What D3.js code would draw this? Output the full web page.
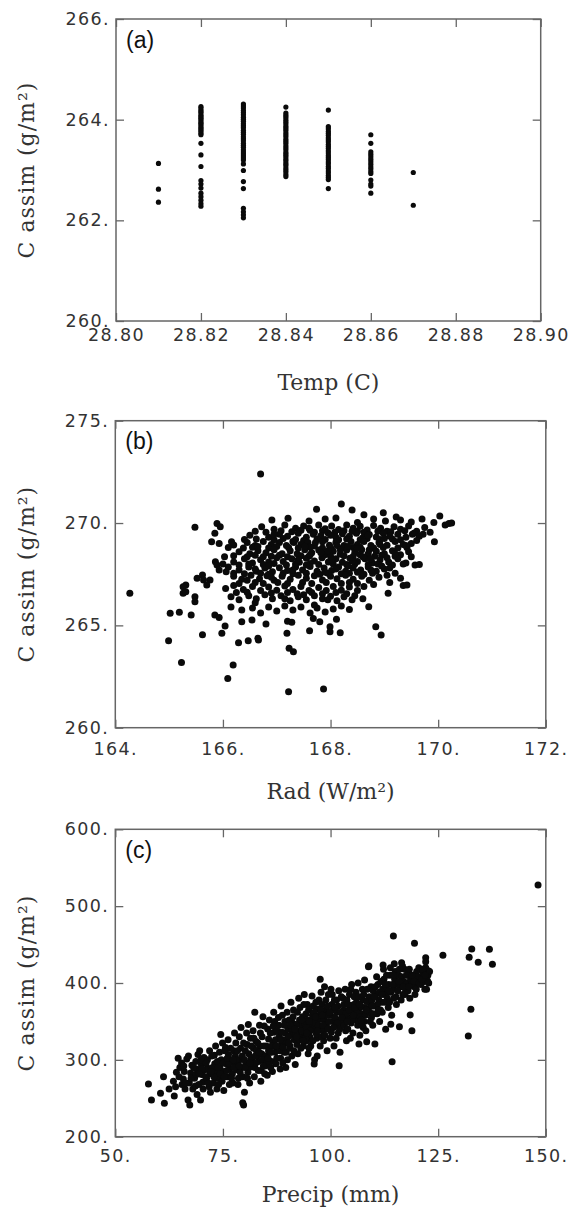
<!DOCTYPE html>
<html>
<head>
<meta charset="utf-8">
<script src="https://cdn.jsdelivr.net/npm/d3@7"></script>
<style>
  body { margin: 0; background: #fff; }
  .tick text { font-family: "DejaVu Sans", sans-serif; font-size: 17.5px; letter-spacing: 1.4px; fill: #333; }
  .tick line { stroke: #666; stroke-width: 1.3; }
  .title { font-family: "DejaVu Serif", serif; font-size: 22px; fill: #333; }
  .plab { font-family: "Liberation Sans", Arial, sans-serif; font-size: 23px; fill: #111; }
</style>
</head>
<body>
<svg id="fig" width="572" height="1209"></svg>
<script>
// ---- data: (a) C assim vs Temp ----
var tempTicks = [28.80, 28.82, 28.84, 28.86, 28.88, 28.90];
var tempTickLabels = ["28.80", "28.82", "28.84", "28.86", "28.88", "28.90"];
var assimTicksA = [260, 262, 264, 266];
var assimTickLabelsA = ["260.", "262.", "264.", "266."];
var tempLevels = [28.81, 28.82, 28.83, 28.84, 28.85, 28.86, 28.87];
var assimAtTemp = [
  [263.13, 262.62, 262.36],
  [264.26, 264.23, 264.19, 264.16, 264.13, 264.09, 264.06, 264.03, 264.00, 263.96, 263.93, 263.90, 263.86, 263.83, 263.80, 263.77, 263.73, 263.70,
   263.53, 263.30, 263.07, 262.79, 262.72, 262.64, 262.54, 262.47, 262.40, 262.33, 262.28],
  [264.31, 264.27, 264.23, 264.18, 264.14, 264.10, 264.05, 264.01, 263.97, 263.92, 263.88, 263.84, 263.79, 263.75, 263.71, 263.66, 263.62, 263.58,
   263.53, 263.49, 263.45, 263.40, 263.36, 263.32, 263.28, 263.24, 263.20, 263.12, 262.99, 262.77, 262.63, 262.24, 262.17, 262.11, 262.05],
  [264.25, 264.13, 264.09, 264.05, 264.00, 263.96, 263.92, 263.87, 263.83, 263.79, 263.74, 263.70, 263.66, 263.61, 263.57, 263.53, 263.48,
   263.44, 263.40, 263.35, 263.31, 263.27, 263.22, 263.18, 263.13, 263.09, 263.04, 263.00, 262.96, 262.91, 262.87],
  [264.19, 263.86, 263.82, 263.77, 263.73, 263.69, 263.64, 263.60, 263.56, 263.51, 263.47, 263.43, 263.38, 263.34, 263.29, 263.25, 263.21,
   263.16, 263.12, 263.07, 263.03, 262.98, 262.94, 262.89, 262.85, 262.81, 262.63],
  [263.70, 263.53, 263.36, 263.31, 263.26, 263.21, 263.16, 263.11, 263.06, 263.02, 262.97, 262.93, 262.80, 262.72, 262.68, 262.54],
  [262.95, 262.30]
];

// ---- data: (b) C assim vs Rad ----
var radTicks = [164, 166, 168, 170, 172];
var radTickLabels = ["164.", "166.", "168.", "170.", "172."];
var assimTicksB = [260, 265, 270, 275];
var assimTickLabelsB = ["260.", "265.", "270.", "275."];
var radPoints = [
  [166.70,272.39],[165.48,269.79],[164.27,266.57],
  [167.74,270.67],[168.20,270.93],[168.40,270.64],[168.98,270.50],[168.62,270.40],[170.03,270.34],[169.22,270.30],
  [165.89,269.98],[165.95,269.82],[166.91,270.15],[167.21,270.23],[167.60,270.10],[167.90,270.20],[168.10,270.25],
  [168.50,270.02],[168.80,270.20],[169.02,270.10],[169.30,270.15],[169.50,270.05],[169.70,270.20],[170.13,269.90],
  [170.20,269.98],[169.92,270.02],[165.85,269.50],
  [166.72,269.82],[166.95,269.70],[167.15,269.90],[167.35,269.75],[167.50,269.85],[167.62,269.65],[167.78,269.90],
  [167.90,269.72],[168.02,269.86],[168.15,269.68],[168.30,269.90],[168.42,269.74],[168.55,269.84],[168.68,269.66],
  [168.80,269.88],[168.93,269.74],[169.05,269.60],[169.18,269.82],[169.30,269.70],[169.45,269.86],[169.60,269.60],
  [169.75,269.78],[169.85,269.55],[170.25,270.00],
  [166.60,269.60],[166.80,269.55],[167.08,269.62],[167.28,269.58],[167.45,269.65],[167.70,269.55],[167.85,269.62],
  [168.08,269.55],[168.25,269.62],[168.50,269.60],[168.62,269.55],[168.88,269.60],[169.12,269.58],[169.38,269.62],
  [169.55,269.50],[169.72,269.45],
  [166.50,269.40],[166.85,269.30],[167.05,269.45],[167.20,269.35],[167.40,269.50],[167.55,269.30],[167.68,269.45],
  [167.82,269.38],[167.95,269.52],[168.10,269.30],[168.22,269.48],[168.35,269.35],[168.48,269.50],[168.60,269.28],
  [168.72,269.44],[168.85,269.32],[168.98,269.50],[169.10,269.36],[169.25,269.45],[169.40,269.30],[169.52,269.45],
  [169.65,269.35],[169.93,269.09],
  [166.40,269.20],[166.62,269.22],[166.95,269.18],[167.12,269.25],[167.35,269.20],[167.50,269.15],[167.75,269.22],
  [167.90,269.20],[168.15,269.18],[168.30,269.22],[168.55,269.18],[168.68,269.25],[168.92,269.20],[169.15,269.22],
  [169.30,269.18],[169.60,269.15],
  [165.79,269.09],[165.93,269.00],[166.16,269.09],[166.20,268.93],[166.45,269.05],[166.60,268.90],[166.75,269.10],
  [166.90,268.95],[167.05,269.05],[167.18,268.90],[167.30,269.10],[167.45,268.95],[167.58,269.05],[167.70,268.88],
  [167.85,269.08],[167.98,268.92],[168.10,269.06],[168.25,268.90],[168.38,269.10],[168.50,268.95],[168.62,269.10],
  [168.75,268.90],[168.90,269.05],[169.05,268.92],[169.20,269.10],[169.35,268.95],[169.50,269.00],
  [166.10,268.80],[166.38,268.78],[166.55,268.82],[166.85,268.78],[167.00,268.85],[167.22,268.80],[167.40,268.78],
  [167.62,268.82],[167.85,268.78],[168.00,268.80],[168.20,268.75],[168.42,268.80],[168.55,268.82],[168.80,268.78],
  [168.98,268.80],[169.25,268.78],[169.42,268.80],
  [166.30,268.60],[166.50,268.50],[166.65,268.65],[166.80,268.55],[166.95,268.70],[167.10,268.50],[167.25,268.65],
  [167.38,268.50],[167.52,268.70],[167.65,268.55],[167.78,268.68],[167.92,268.50],[168.05,268.62],[168.18,268.48],
  [168.30,268.68],[168.45,268.55],[168.58,268.70],[168.70,268.50],[168.85,268.62],[169.00,268.50],[169.15,268.65],
  [169.30,268.45],[169.45,268.60],
  [166.20,268.40],[166.45,268.35],[166.60,268.42],[166.90,268.38],[167.05,268.42],[167.20,268.35],[167.45,268.40],
  [167.60,268.38],[167.88,268.42],[168.00,268.38],[168.25,268.40],[168.42,268.36],[168.55,268.45],[168.82,268.38],
  [168.95,268.42],[169.20,268.38],[169.50,268.35],
  [165.86,268.11],[166.03,268.35],[166.20,268.10],[166.40,268.25],[166.55,268.05],[166.70,268.20],[166.85,268.10],
  [167.00,268.30],[167.12,268.12],[167.28,268.25],[167.42,268.08],[167.55,268.28],[167.70,268.15],[167.84,268.30],
  [167.96,268.10],[168.10,268.25],[168.22,268.08],[168.36,268.28],[168.50,268.12],[168.64,268.25],[168.78,268.05],
  [168.92,268.20],[169.08,268.10],[169.25,268.25],[169.40,268.05],[169.57,267.95],[169.65,267.98],
  [166.00,268.00],[166.30,267.95],[166.48,268.00],[166.75,267.98],[166.95,268.02],[167.18,267.95],[167.35,268.00],
  [167.62,268.02],[167.78,267.98],[168.05,268.00],[168.30,267.98],[168.45,268.00],[168.70,267.98],[168.88,268.00],
  [169.15,267.95],[169.35,268.00],
  [165.89,267.95],[165.93,267.70],[166.10,267.85],[166.30,267.70],[166.48,267.85],[166.62,267.65],[166.78,267.80],
  [166.92,267.62],[167.05,267.82],[167.20,267.68],[167.35,267.85],[167.48,267.70],[167.62,267.88],[167.75,267.65],
  [167.88,267.80],[168.02,267.68],[168.15,267.85],[168.28,267.65],[168.42,267.80],[168.56,267.70],[168.70,267.85],
  [168.85,267.65],[169.00,267.75],[169.20,267.55],[169.10,267.80],[169.30,267.30],
  [166.20,267.55],[166.40,267.52],[166.70,267.55],[166.85,267.50],[167.12,267.55],[167.30,267.52],[167.55,267.55],
  [167.80,267.50],[167.95,267.55],[168.20,267.52],[168.35,267.55],[168.62,267.50],[168.78,267.55],[169.05,267.45],
  [165.52,267.30],[165.62,267.46],[165.76,267.22],[165.64,267.22],[165.70,266.97],[166.06,267.62],[166.20,267.40],
  [166.35,267.25],[166.52,267.45],[166.68,267.28],[166.82,267.42],[166.95,267.20],[167.10,267.40],[167.25,267.25],
  [167.40,267.45],[167.55,267.30],[167.70,267.42],[167.85,267.22],[168.00,267.40],[168.12,267.28],[168.28,267.45],
  [168.42,267.25],[168.58,267.40],[168.72,267.20],[168.90,267.35],[169.10,267.10],[169.35,266.95],[169.42,266.97],
  [166.30,267.05],[166.60,267.10],[166.75,267.05],[167.02,267.10],[167.20,267.05],[167.48,267.10],[167.65,267.05],
  [167.92,267.10],[168.20,267.05],[168.35,267.10],[168.50,267.05],[168.80,267.00],
  [165.31,266.97],[165.26,266.89],[166.05,266.80],[166.20,266.95],[166.38,266.75],[166.55,266.90],[166.70,266.70],
  [166.85,266.88],[167.00,266.72],[167.15,266.92],[167.30,266.75],[167.45,266.90],[167.60,266.70],[167.78,266.85],
  [167.92,266.70],[168.05,266.90],[168.20,266.72],[168.35,266.88],[168.50,266.70],[168.62,266.90],[169.07,266.57],
  [166.25,266.60],[166.45,266.62],[166.90,266.58],[167.20,266.60],[167.38,266.55],[167.65,266.60],[167.85,266.55],
  [168.10,266.60],[168.30,266.55],
  [165.26,266.57],[165.31,266.64],[165.48,266.40],[165.48,266.16],[166.15,266.40],[166.30,266.25],[166.48,266.45],
  [166.62,266.30],[166.78,266.50],[166.92,266.30],[167.08,266.45],[167.25,266.20],[167.40,266.40],[167.55,266.25],
  [167.70,266.45],[167.85,266.30],[168.00,266.42],[168.12,266.20],[168.25,266.40],[168.40,266.25],[168.60,266.30],
  [166.15,265.90],[166.35,265.75],[166.55,265.85],[166.70,265.60],[166.85,265.90],[167.00,265.70],[167.15,265.95],
  [167.30,265.75],[167.45,265.90],[167.62,265.60],[167.75,265.85],[167.90,265.65],[168.05,265.80],[168.20,265.95],
  [168.35,265.78],[168.71,265.91],
  [165.02,265.59],[165.19,265.64],[165.41,265.51],[165.85,265.51],[165.93,265.39],[166.04,264.97],[165.98,264.61],
  [165.62,264.54],[164.99,264.25],[165.23,263.18],[166.09,262.41],[166.19,263.06],[166.29,264.15],[166.47,264.25],
  [166.65,264.37],[166.66,264.28],[166.35,265.18],[166.54,265.26],[166.80,265.07],[167.19,264.61],[167.23,263.88],
  [167.31,263.71],[167.22,261.76],[167.87,261.89],[167.61,264.74],[167.99,264.93],[167.99,264.69],[167.68,265.34],
  [167.80,265.18],[168.11,265.30],[168.18,264.64],[168.84,264.93],[168.94,264.53],[167.20,265.20],[167.28,265.15],
  [167.32,269.05],[167.52,268.85],[167.72,269.05],[167.95,268.65],[168.12,268.90],[168.32,268.85],[168.50,268.75],
  [168.72,268.70],[168.92,268.95],[167.40,268.20],[167.62,268.45],[167.82,268.55],[168.02,268.20],[168.18,268.70],
  [168.40,268.15],[168.60,268.35],[168.75,268.25],[169.05,268.30],[167.30,267.70],[167.55,267.95],[167.90,267.60],
  [168.10,267.75],[168.32,267.90],[168.50,267.60],[168.75,267.70],[168.95,267.90],[166.60,267.75],[166.85,267.90],
  [166.45,267.20],[166.90,267.35],[166.75,268.35],[166.65,268.85],[166.95,269.45],[167.60,269.75],[168.00,269.40],
  [168.40,269.60],[168.70,269.40],[169.00,269.25],[169.20,268.50],[169.40,268.90],[167.15,266.30],[167.50,266.50],
  [167.95,266.25],[168.45,266.45],[166.60,266.10],[167.70,266.00]
];

// ---- data: (c) C assim vs Precip ----
var precipTicks = [50, 75, 100, 125, 150];
var precipTickLabels = ["50.", "75.", "100.", "125.", "150."];
var assimTicksC = [200, 300, 400, 500, 600];
var assimTickLabelsC = ["200.", "300.", "400.", "500.", "600."];
var precipPoints = [
  [148.2,527.5],[132.8,444.2],[136.9,443.8],[132.2,433.4],[134.3,426.9],[137.6,424.3],[132.6,365.8],[132.0,331.0],
  [126.1,436.0],[114.6,461.2],[119.5,451.7],[114.3,297.6],[118.9,337.9],[118.5,358.4],[116.0,343.2],[114.0,346.3],
  [112.8,339.8],[110.3,320.6],[108.4,323.6],[106.6,320.6],[102.0,292.4],[96.2,294.6],[108.9,422.1],[97.6,404.8],
  [82.4,361.9],[122.1,433.0],[122.1,427.7],[122.7,416.0],[121.9,391.8],[116.5,426.4],
  [57.7,268.6],[58.4,247.8],[60.5,256.5],[61.4,243.5],[61.2,278.0],[62.5,262.0],
  [63.7,253.0],[63.5,272.0],[64.2,284.0],[64.6,302.0],[64.0,265.0],[65.0,290.0],
  [65.4,296.0],[65.8,275.0],[66.2,262.0],[66.0,285.0],[66.6,301.0],[65.5,268.0],
  [66.9,247.8],[67.3,241.2],[67.2,270.0],[67.5,283.0],[67.8,293.0],[67.0,305.0],[68.0,262.0],
  [68.4,276.0],[68.7,298.0],[68.9,288.0],[68.6,266.0],[69.0,255.0],[69.2,307.0],
  [69.8,247.8],[70.1,281.0],[70.3,271.0],[70.0,294.0],[70.4,262.0],[70.6,303.0],[69.6,312.0],
  [71.2,276.0],[71.5,289.0],[71.8,265.0],[71.4,300.0],[72.0,282.0],[71.9,312.0],[72.1,258.0],
  [72.8,270.0],[73.1,295.0],[73.4,284.0],[73.0,306.0],[73.6,262.0],[73.3,318.0],[73.8,276.0],
  [74.3,290.0],[74.6,300.0],[74.8,272.0],[74.2,310.0],[75.0,285.0],[74.9,322.0],[75.2,260.0],[74.5,333.0],
  [75.8,295.0],[76.0,278.0],[76.3,307.0],[76.5,268.0],[75.6,316.0],[76.6,289.0],[76.2,326.0],[76.9,300.0],
  [77.2,282.0],[77.5,312.0],[77.8,296.0],[77.3,270.0],[78.0,322.0],[77.7,335.0],[78.2,287.0],[77.9,305.0],
  [78.6,276.0],[78.9,300.0],[79.1,315.0],[79.3,290.0],[78.8,330.0],[79.5,305.0],[79.6,278.0],[79.2,342.0],
  [79.6,244.2],[79.8,241.2],[80.0,258.0],
  [80.3,296.0],[80.6,320.0],[80.8,284.0],[80.5,335.0],[81.0,308.0],[81.2,270.0],[81.4,328.0],[80.9,346.0],
  [81.8,300.0],[82.1,315.0],[82.4,290.0],[82.0,338.0],[82.7,324.0],[82.3,278.0],[82.9,305.0],
  [83.3,298.0],[83.6,318.0],[83.9,286.0],[83.5,345.0],[84.1,330.0],[84.0,308.0],[83.8,272.0],[84.3,356.0],
  [84.8,292.0],[85.1,318.0],[85.4,340.0],[85.0,305.0],[85.6,327.0],[85.3,280.0],[85.8,352.0],[85.9,310.0],
  [86.3,298.0],[86.6,322.0],[86.9,336.0],[86.5,285.0],[87.1,310.0],[87.0,350.0],[86.8,362.0],[87.3,295.0],
  [87.8,316.0],[88.1,330.0],[88.4,302.0],[88.0,345.0],[88.6,320.0],[88.3,288.0],[88.8,358.0],[88.5,370.0],
  [89.2,310.0],[89.5,335.0],[89.8,322.0],[89.4,350.0],[90.0,300.0],[89.9,362.0],[90.1,340.0],[89.6,290.0],
  [90.6,318.0],[90.9,333.0],[91.2,348.0],[91.0,305.0],[91.4,365.0],[91.6,326.0],[90.8,375.0],[91.8,294.0],
  [92.2,320.0],[92.5,338.0],[92.8,352.0],[92.4,308.0],[93.0,330.0],[92.9,368.0],[93.2,345.0],[92.6,380.0],
  [93.7,318.0],[94.0,335.0],[94.3,360.0],[94.1,347.0],[94.5,325.0],[94.6,372.0],[93.9,385.0],[94.8,308.0],
  [95.2,330.0],[95.5,345.0],[95.8,358.0],[95.4,318.0],[96.0,370.0],[96.1,340.0],[95.7,383.0],[96.3,300.0],
  [96.8,328.0],[97.1,352.0],[97.4,340.0],[97.0,366.0],[97.6,318.0],[97.3,378.0],[97.8,388.0],[96.9,305.0],
  [98.2,338.0],[98.5,352.0],[98.8,365.0],[98.4,325.0],[99.0,345.0],[98.9,378.0],[99.2,312.0],[98.6,395.0],
  [99.7,340.0],[100.0,358.0],[100.3,372.0],[99.9,328.0],[100.5,350.0],[100.4,385.0],[100.8,318.0],[100.1,392.0],
  [101.2,345.0],[101.5,362.0],[101.8,335.0],[101.4,378.0],[102.0,352.0],[101.9,390.0],[102.2,310.0],
  [102.7,348.0],[103.0,365.0],[103.3,355.0],[102.9,380.0],[103.5,338.0],[103.4,392.0],[103.7,325.0],[103.1,372.0],
  [104.2,355.0],[104.5,370.0],[104.8,348.0],[104.4,385.0],[105.0,362.0],[104.9,398.0],[105.2,335.0],[104.6,328.0],
  [105.7,358.0],[106.0,375.0],[106.3,345.0],[105.9,388.0],[106.5,366.0],[106.4,400.0],[106.8,332.0],[106.2,352.0],
  [107.2,360.0],[107.5,378.0],[107.8,350.0],[107.4,392.0],[108.0,368.0],[107.9,404.0],[108.2,338.0],[107.6,342.0],
  [108.7,365.0],[109.0,382.0],[109.3,372.0],[108.8,421.0],[109.5,355.0],[109.4,395.0],[109.8,345.0],[109.2,350.0],
  [110.2,370.0],[110.5,385.0],[110.8,360.0],[111.0,398.0],[111.2,378.0],[110.7,408.0],[111.4,350.0],
  [111.8,375.0],[112.1,392.0],[112.2,423.4],[112.4,405.0],[112.0,362.0],[112.6,385.0],[112.3,418.0],
  [113.2,380.0],[113.5,398.0],[113.8,410.0],[113.4,368.0],[114.0,388.0],[113.9,420.0],[114.2,358.0],
  [114.6,392.0],[114.9,405.0],[115.2,382.0],[115.0,415.0],[115.5,398.0],[115.3,372.0],[115.8,410.0],[114.8,425.0],
  [116.2,395.0],[116.5,408.0],[116.8,385.0],[116.4,378.0],[117.0,402.0],[117.2,418.0],[116.7,422.0],[117.4,392.0],
  [117.8,400.0],[118.1,410.0],[118.4,380.0],[118.0,390.0],[118.6,405.0],[118.8,398.0],[118.3,418.0],
  [119.2,410.0],[119.5,395.0],[119.8,402.0],[120.0,415.0],[119.6,385.0],[120.3,408.0],[120.5,420.0],
  [121.0,398.0],[121.5,412.0],[121.8,402.0],[122.1,420.0],[122.3,392.0],[122.6,410.0],[123.0,415.0],[122.5,403.0],
  [64.8,278],[65.9,292],[66.4,270],[67.6,276],[68.2,290],[68.8,281],[69.4,268],[69.9,300],[70.8,287],[71.1,296],
  [71.6,270],[72.4,305],[72.6,290],[72.9,278],[73.7,298],[74.0,268],[74.4,282],[75.1,296],[75.4,312],[75.9,286],
  [76.4,296],[76.8,315],[77.0,276],[77.6,290],[78.1,300],[78.4,312],[78.5,268],[79.0,284],[79.8,322],[80.0,300],
  [80.2,312],[80.7,276],[81.1,290],[81.5,302],[81.6,318],[82.2,328],[82.6,296],[82.8,312],[83.2,286],[83.1,322],
  [83.7,335],[84.2,300],[84.5,318],[84.6,344],[84.7,282],[85.2,296],[85.6,312],[86.0,335],[86.1,290],[86.4,318],
  [86.7,344],[87.2,326],[87.5,302],[87.6,338],[87.9,355],[88.2,312],[88.7,336],[88.9,296],[89.1,326],[89.3,345],
  [89.7,310],[90.2,330],[90.4,352],[90.5,315],[91.1,340],[91.3,356],[91.5,312],[91.9,334],[92.0,346],[92.3,362],
  [92.7,326],[93.1,315],[93.4,338],[93.5,356],[93.8,372],[94.2,328],[94.4,342],[94.7,352],[94.9,365],[95.0,315],
  [95.3,338],[95.6,352],[95.9,325],[96.2,362],[96.4,348],[96.6,375],[96.7,334],[97.2,345],[97.5,358],[97.9,330],
  [98.0,372],[98.3,345],[98.7,332],[99.1,358],[99.3,370],[99.5,385],[99.6,350],[100.2,336],[100.6,365],[100.9,378],
  [101.0,355],[101.3,328],[101.6,348],[101.7,370],[102.1,340],[102.4,362],[102.5,382],[103.2,345],[103.6,360],[103.8,378],
  [104.0,340],[104.3,365],[104.7,392],[105.1,352],[105.4,372],[105.5,382],[106.1,362],[106.6,382],[106.9,356],[107.0,370],
  [107.3,345],[107.7,385],[108.1,358],[108.4,376],[108.5,392],[109.1,362],[109.6,378],[109.9,390],[110.0,360],[110.4,395],
  [110.9,372],[111.3,388],[111.6,365],[111.7,402],[112.5,375],[112.9,395],[113.0,410],[113.3,388],[113.7,375],[114.4,398],
  [114.5,410],[114.7,380],[115.6,390],[115.9,402],[116.0,418],[116.9,395],[117.6,410],[117.3,385],[118.2,395],[118.9,410],
  [119.4,402],[119.9,392],[120.6,400],[121.2,405],[121.4,418],[122.0,410],[122.8,400],
  [80.1,290],[81.3,296],[82.5,305],[83.4,310],[84.4,292],[85.5,302],[86.2,310],[87.4,318],[88.4,326],[89.0,316],
  [90.3,322],[90.7,345],[91.7,340],[92.1,330],[93.3,352],[93.6,325],[94.5,335],[95.1,350],[96.5,356],[97.0,338],
  [97.7,365],[98.1,358],[99.4,340],[99.8,362],[100.7,342],[101.1,368],[102.6,355],[103.9,350],[104.1,372],[105.3,358],
  [105.6,368],[106.7,372],[107.1,352],[108.3,365],[109.7,370],[110.1,382],[111.1,365],[111.9,385],[112.7,398],[113.6,390],
  [76.0,302],[77.4,300],[78.8,292],[75.3,278],[73.9,290],[72.2,285],[71.0,278],[70.2,288],[69.5,282]
];

// ---- layout ----
var svg = d3.select('#fig');

var panels = [
  {
    tag: '(a)', xTitle: 'Temp (C)', yTitle: 'C assim (g/m\u00b2)',
    points: d3.merge(tempLevels.map(function (t, i) {
      return assimAtTemp[i].map(function (v) { return [t, v]; });
    })),
    r: 2.6,
    xDomain: [28.80, 28.90], yDomain: [260, 266],
    xTicks: tempTicks, xLabels: tempTickLabels, yTicks: assimTicksA, yLabels: assimTickLabelsA,
    left: 116, right: 540.7, top: 19, bottom: 321, xPad: 8, titleOff: 69
  },
  {
    tag: '(b)', xTitle: 'Rad (W/m\u00b2)', yTitle: 'C assim (g/m\u00b2)',
    points: radPoints, r: 3.5,
    xDomain: [164, 172], yDomain: [260, 275],
    xTicks: radTicks, xLabels: radTickLabels, yTicks: assimTicksB, yLabels: assimTickLabelsB,
    left: 115.3, right: 545.8, top: 420.7, bottom: 727.7, xPad: 15, titleOff: 71
  },
  {
    tag: '(c)', xTitle: 'Precip (mm)', yTitle: 'C assim (g/m\u00b2)',
    points: precipPoints, r: 3.5,
    xDomain: [50, 150], yDomain: [200, 600],
    xTicks: precipTicks, xLabels: precipTickLabels, yTicks: assimTicksC, yLabels: assimTickLabelsC,
    left: 115.3, right: 545.8, top: 829.3, bottom: 1136.7, xPad: 13, titleOff: 65
  }
];

var drawPanel = function (p) {
  var x = d3.scaleLinear().domain(p.xDomain).range([p.left, p.right]);
  var y = d3.scaleLinear().domain(p.yDomain).range([p.bottom, p.top]);
  var g = svg.append('g');

  // 散点
  g.append('g').selectAll('circle')
    .data(p.points)
    .enter()
    .append('circle')
    .attr('cx', function (d) { return x(d[0]); })
    .attr('cy', function (d) { return y(d[1]); })
    .attr('r', p.r)
    .attr('fill', '#0a0a0a');

  // 四周坐标轴，刻度朝内
  var bottomAxis = d3.axisBottom(x).tickValues(p.xTicks)
    .tickFormat(function (d, i) { return p.xLabels[i]; })
    .tickSizeInner(-8).tickSizeOuter(0).tickPadding(p.xPad);
  var topAxis = d3.axisTop(x).tickValues(p.xTicks).tickFormat('').tickSizeInner(-8).tickSizeOuter(0);
  var leftAxis = d3.axisLeft(y).tickValues(p.yTicks)
    .tickFormat(function (d, i) { return p.yLabels[i]; })
    .tickSizeInner(-8).tickSizeOuter(0).tickPadding(6);
  var rightAxis = d3.axisRight(y).tickValues(p.yTicks).tickFormat('').tickSizeInner(-8).tickSizeOuter(0);

  var axes = [
    g.append('g').attr('transform', 'translate(0,' + p.bottom + ')').call(bottomAxis),
    g.append('g').attr('transform', 'translate(0,' + p.top + ')').call(topAxis),
    g.append('g').attr('transform', 'translate(' + p.left + ',0)').call(leftAxis),
    g.append('g').attr('transform', 'translate(' + p.right + ',0)').call(rightAxis)
  ];
  axes.forEach(function (a) {
    a.attr('font-family', null).attr('font-size', null);
    a.select('.domain').remove();
  });

  // 边框
  g.append('rect')
    .attr('x', p.left).attr('y', p.top)
    .attr('width', p.right - p.left).attr('height', p.bottom - p.top)
    .attr('fill', 'none').attr('stroke', '#666').attr('stroke-width', 1.5);

  // 标题
  g.append('text').attr('class', 'title')
    .attr('x', (p.left + p.right) / 2).attr('y', p.bottom + p.titleOff)
    .attr('text-anchor', 'middle').text(p.xTitle);
  g.append('text').attr('class', 'title')
    .attr('transform', 'translate(34,' + (p.top + p.bottom) / 2 + ') rotate(-90)')
    .attr('text-anchor', 'middle').style('letter-spacing', '1px').text(p.yTitle);
  g.append('text').attr('class', 'plab')
    .attr('x', p.left + 10).attr('y', p.top + 28.5).text(p.tag);
};

panels.forEach(drawPanel);
</script>
</body>
</html>
